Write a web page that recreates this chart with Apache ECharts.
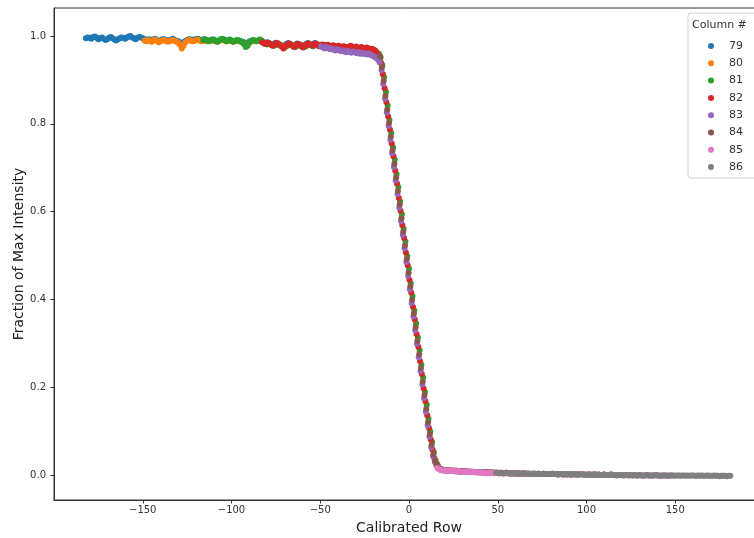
<!DOCTYPE html>
<html>
<head>
<meta charset="utf-8">
<script src="https://cdn.jsdelivr.net/npm/echarts@6/dist/echarts.min.js"></script>
<style>
html,body{margin:0;padding:0;background:#fff;}
#chart{width:754px;height:538px;}
</style>
</head>
<body>
<div id="chart"></div>
<script>
// Column numbers (legend) and colours
const columns = ['79', '80', '81', '82', '83', '84', '85', '86'];
const colors = ['#1f77b4', '#ff7f0e', '#2ca02c', '#d62728', '#9467bd', '#8c564b', '#e377c2', '#7f7f7f'];

// First calibrated row of each column (rows then step by 1)
const rowStart = [-182, -149, -116, -82.75, -49.5, -16.25, 16, 49];

// Fraction of max intensity, per column, one value per calibrated row
const col79 = [
.995,.997,.996,.994,.998,.999,.996,.993,.995,.997,.994,.991,.993,.996,.998,.995,.992,.990,.993,.995,.997,.996,.994,.996,.999,1.0,.997,.995,.993,.996,.998,.997,.995,
.993,.990,.993,.992,.989,.992,.994,.991,.989,.990,.993,.993,.991,.990,.990,.992,.994,.991,.989,.988,.985,.984,.986,.989,.991,.993,.992,.990,.992,.993,.994,.992,.990,
.992,.993,.991,.989,.990,.991,.992,.990,.988,.990,.992,.993,.991,.989,.990,.991,.990,.988,.989,.990,.990,.989,.987,.986,.984,.985,.987,.989,.990,.990,.989,.990,.991,
.987,.986,.984,.986,.985,.982,.981,.983,.985,.984,.981,.979,.977,.979,.982,.984,.982,.980,.978,.980,.983,.982,.979,.977,.979,.982,.984,.982,.980,.982,.984,.982,.979,.980];
const col80 = [
.990,.988,.991,.989,.987,.990,.992,.989,.986,.988,.990,.991,.989,.987,.988,.990,.991,.989,.987,.985,.980,.972,.978,.986,.989,.991,.990,.988,.989,.991,.992,.990,.988,.989,
.991,.989,.988,.989,.990,.990,.988,.987,.989,.991,.992,.990,.988,.989,.990,.989,.987,.988,.990,.989,.987,.986,.983,.979,.980,.984,.987,.989,.989,.988,.989,.990,.989,
.985,.983,.982,.984,.982,.980,.979,.981,.983,.981,.979,.977,.975,.978,.981,.982,.980,.978,.976,.979,.981,.980,.977,.976,.978,.980,.982,.980,.978,.980,.982,.980,
.978,.979,.977,.976,.978,.977,.975,.977,.976,.974,.976,.975,.973,.975,.974,.972,.974,.975,.973,.972,.974,.972,.971,.973,.971,.970,.972,.970,.969,.969,.967,.963,.957,.948];
const col81 = [
.991,.993,.990,.988,.990,.992,.991,.989,.987,.990,.993,.994,.991,.988,.990,.992,.990,.987,.989,.991,.990,.988,.986,.982,.975,.978,.985,.989,.991,.990,.988,.990,.992,.990,
.984,.982,.981,.983,.981,.979,.978,.980,.982,.980,.978,.976,.974,.977,.980,.981,.979,.977,.975,.978,.980,.979,.976,.975,.977,.979,.981,.979,.977,.979,.981,.979,.977,
.979,.977,.979,.977,.975,.977,.976,.974,.976,.975,.973,.975,.976,.974,.973,.975,.973,.972,.974,.972,.971,.973,.972,.970,.971,.972,.970,.969,.970,.968,.966,.962,
.960,.951,.934,.906,.873,.842,.809,.780,.747,.718,.685,.656,.623,.594,.561,.532,.499,.470,.437,.408,.375,.346,.313,.284,.251,.222,.189,.160,.128,.099,.075,.052,.033,.024];
const col82 = [
.986,.984,.982,.985,.983,.980,.978,.981,.984,.982,.979,.976,.972,.977,.981,.983,.980,.978,.975,.979,.982,.980,.977,.974,.978,.981,.983,.980,.978,.981,.983,.980,.977,.979,
.981,.979,.977,.980,.978,.976,.979,.977,.975,.978,.976,.974,.977,.975,.973,.976,.978,.975,.973,.976,.974,.972,.975,.973,.971,.974,.972,.970,.971,.969,.966,.960,.952,
.939,.913,.881,.850,.817,.787,.755,.726,.693,.664,.631,.602,.569,.540,.507,.478,.445,.416,.383,.354,.321,.292,.259,.230,.197,.168,.136,.107,.081,.058,.038,.027,.020,
.015,.013,.012,.011,.011,.010,.010,.010,.009,.010,.009,.009,.008,.009,.008,.008,.008,.007,.008,.007,.007,.007,.006,.007,.006,.006,.006,.006,.005,.006,.005,.005,.005];
const col83 = [
.976,.974,.972,.975,.973,.970,.972,.969,.967,.970,.968,.966,.968,.965,.963,.966,.964,.962,.965,.963,.961,.963,.960,.962,.959,.961,.958,.960,.957,.955,.953,.950,.946,.940,
.922,.891,.857,.826,.795,.764,.733,.702,.671,.640,.609,.578,.547,.516,.485,.454,.423,.392,.361,.330,.299,.268,.237,.206,.175,.144,.113,.087,.063,.043,.030,.022,.017,
.014,.012,.011,.011,.010,.010,.009,.010,.009,.009,.008,.009,.008,.008,.008,.007,.008,.007,.007,.007,.006,.007,.006,.006,.006,.006,.005,.006,.005,.005,.005,.005,.005,
.004,.005,.004,.004,.005,.004,.004,.003,.004,.004,.003,.004,.003,.003,.004,.003,.003,.003,.002,.003,.003,.002,.003,.002,.002,.003,.002,.002,.002,.002,.003,.002,.002];
const col84 = [
.954,.929,.898,.864,.833,.802,.771,.740,.709,.678,.647,.616,.585,.554,.523,.492,.461,.430,.399,.368,.337,.306,.275,.244,.213,.182,.151,.120,.093,.069,.047,.032,.023,.016,
.013,.012,.011,.010,.010,.010,.009,.009,.009,.009,.008,.008,.008,.008,.008,.007,.007,.007,.007,.007,.006,.006,.006,.006,.006,.006,.005,.005,.005,.005,.005,.005,.005,
.004,.005,.004,.004,.005,.004,.004,.003,.004,.004,.003,.004,.003,.003,.004,.003,.003,.003,.002,.003,.003,.002,.003,.002,.002,.003,.002,.002,.002,.002,.003,.002,.002,
.001,.002,.002,.001,.002,.001,.002,.001,.001,.002,.001,.001,.001,.002,.001,.001,.000,.001,.001,.000,.001,.001,.000,.001,.000,.000,.001,.000,.000,.000,.001,.000,.000];
const col85 = [
.016,.013,.011,.011,.010,.010,.009,.010,.009,.009,.008,.009,.008,.008,.007,.008,.007,.007,.007,.006,.007,.006,.006,.006,.005,.006,.005,.005,.005,.005,.004,.005,.004,
.005,.005,.004,.005,.004,.004,.005,.004,.004,.003,.004,.004,.003,.004,.003,.003,.004,.003,.003,.003,.002,.003,.003,.002,.003,.002,.002,.003,.002,.002,.002,.002,.003,
.002,.002,.001,.002,.002,.001,.002,.001,.002,.001,.001,.002,.001,.001,.001,.002,.001,.001,.000,.001,.001,.000,.001,.001,.000,.001,.000,.000,.001,.000,.000,.000,.001,
.000,.000,-.001,.000,.000,.000,-.001,.000,.000,-.001,.000,-.001,.000,-.001,-.001,.000,-.001,-.001,-.001,.000,-.001,-.001,-.001,-.001,.000,-.001,-.001,-.002,-.001,-.001,-.001,-.002,-.001,-.001];
const col86 = [
.005,.005,.004,.005,.004,.004,.005,.004,.004,.003,.004,.004,.003,.004,.003,.003,.004,.003,.003,.003,.002,.003,.003,.002,.003,.002,.002,.003,.002,.002,.002,.002,.003,
.002,.002,.001,.002,.002,.001,.002,.001,.002,.001,.001,.002,.001,.001,.001,.002,.001,.001,.000,.001,.001,.000,.001,.001,.000,.001,.000,.000,.001,.000,.000,.000,.001,
.000,.000,-.001,.000,.000,.000,-.001,.000,.000,-.001,.000,-.001,.000,-.001,-.001,.000,-.001,-.001,-.001,.000,-.001,-.001,-.001,-.001,.000,-.001,-.001,-.002,-.001,-.001,-.001,-.002,-.001,
-.001,-.001,-.002,-.001,-.001,-.002,-.001,-.001,-.002,-.001,-.002,-.001,-.001,-.002,-.002,-.001,-.002,-.001,-.002,-.002,-.001,-.002,-.002,-.002,-.001,-.002,-.002,-.003,-.002,-.002,-.002,-.003,-.002,-.002];

const allValues = [col79, col80, col81, col82, col83, col84, col85, col86];

// Axis ticks
const xTicks = [-150, -100, -50, 0, 50, 100, 150];
const yTicks = [0.0, 0.2, 0.4, 0.6, 0.8, 1.0];

const FONT = '"DejaVu Sans", "Liberation Sans", sans-serif';

const chart = echarts.init(document.getElementById('chart'), null, {renderer: 'canvas'});

const series = allValues.map((vals, k) => ({
  name: columns[k],
  type: 'scatter',
  symbol: 'circle',
  symbolSize: 6,
  itemStyle: {color: colors[k], opacity: 1},
  emphasis: {disabled: true},
  data: vals.map((v, i) => [rowStart[k] + i, v]),
  z: 2
}));

const option = {
  animation: false,
  backgroundColor: '#fff',
  grid: {
    left: 54, top: 8, width: 710, height: 492,
    containLabel: false, outerBoundsMode: 'none',
    show: true, borderColor: '#333', borderWidth: 1, backgroundColor: 'transparent'
  },
  xAxis: {
    type: 'value', min: -200, max: 200, interval: 50,
    name: 'Calibrated Row', nameLocation: 'middle', nameGap: 21, nameMoveOverlap: false,
    nameTextStyle: {fontFamily: FONT, fontSize: 14, color: '#222'},
    axisLine: {show: true, onZero: false, lineStyle: {color: '#333', width: 1}},
    axisTick: {show: true, length: 3.5, lineStyle: {color: '#333'}, customValues: xTicks},
    axisLabel: {
      fontFamily: FONT, fontSize: 10, color: '#333', margin: 5,
      customValues: xTicks,
      formatter: v => (v < 0 ? '\u2212' + Math.abs(v) : String(v))
    },
    splitLine: {show: false}
  },
  yAxis: {
    type: 'value', min: -0.057, max: 1.064,
    name: 'Fraction of Max Intensity', nameLocation: 'middle', nameGap: 28, nameMoveOverlap: false,
    nameTextStyle: {fontFamily: FONT, fontSize: 14, color: '#222'},
    axisLine: {show: true, onZero: false, lineStyle: {color: '#333', width: 1}},
    axisTick: {show: true, length: 3.5, lineStyle: {color: '#333'}, customValues: yTicks},
    axisLabel: {
      fontFamily: FONT, fontSize: 10, color: '#333', margin: 8,
      customValues: yTicks,
      formatter: v => Number(v).toFixed(1)
    },
    splitLine: {show: false}
  },
  legend: {
    orient: 'vertical', left: 703, top: 35, z: 10,
    icon: 'circle', itemWidth: 26, itemHeight: 6, itemGap: 5.3,
    textStyle: {fontFamily: FONT, fontSize: 11, color: '#333', lineHeight: 12},
    data: columns,
    selectedMode: false
  },
  graphic: [
    {type: 'rect', shape: {x: 688, y: 13, width: 80, height: 165, r: 3},
     style: {fill: 'rgba(255,255,255,0.8)', stroke: '#d0d0d0', lineWidth: 1}, z: 3},
    {type: 'text', x: 692, y: 20,
     style: {text: 'Column #', fontFamily: FONT, fontSize: 11, fill: '#333'}, z: 11}
  ],
  series: series
};

chart.setOption(option);
</script>
</body>
</html>
